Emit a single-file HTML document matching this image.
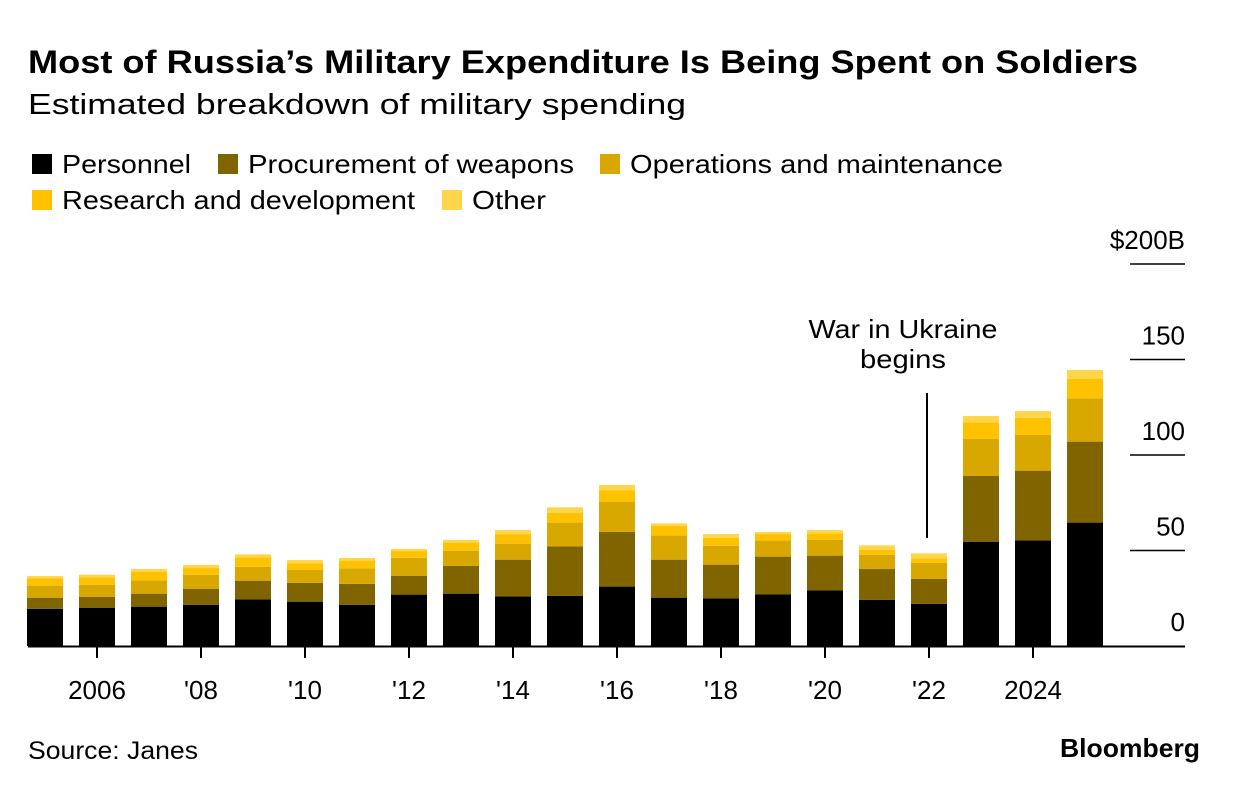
<!DOCTYPE html>
<html><head><meta charset="utf-8"><style>
body{margin:0;background:#fff;font-family:"Liberation Sans",Arial,sans-serif;}
svg text{font-family:"Liberation Sans",Arial,sans-serif;}
</style></head><body>
<svg id="c" width="1240" height="792" viewBox="0 0 1240 792">
<text x="28" y="73" font-size="32" font-weight="bold" textLength="1110" lengthAdjust="spacingAndGlyphs">Most of Russia’s Military Expenditure Is Being Spent on Soldiers</text>
<text x="28" y="114" font-size="29" textLength="658" lengthAdjust="spacingAndGlyphs">Estimated breakdown of military spending</text>
<g id="legend"></g>
<g id="grid"></g>
<g id="bars"></g>
<g id="xaxis"></g>
<text x="903" y="338" font-size="26" text-anchor="middle" textLength="189" lengthAdjust="spacingAndGlyphs">War in Ukraine</text>
<text x="903" y="368" font-size="26" text-anchor="middle" textLength="86" lengthAdjust="spacingAndGlyphs">begins</text>
<line x1="927" y1="393" x2="927" y2="538" stroke="#000" stroke-width="2"/>
<text x="28" y="759" font-size="25" textLength="170" lengthAdjust="spacingAndGlyphs">Source: Janes</text>
<text x="1200" y="757" font-size="26" font-weight="bold" text-anchor="end" textLength="140" lengthAdjust="spacingAndGlyphs">Bloomberg</text>
</svg>
<script>
const years=[2005,2006,2007,2008,2009,2010,2011,2012,2013,2014,2015,2016,2017,2018,2019,2020,2021,2022,2023,2024,2025];
const personnel=[19.5,19.9,20.6,21.6,24.4,23.2,21.6,26.9,27.4,26.0,26.3,31.1,25.3,25.0,27.1,29.2,24.1,22.1,54.6,55.3,64.6];
const procurement=[5.8,5.9,6.8,8.4,9.8,9.9,10.9,9.9,14.5,19.2,25.9,28.6,19.9,17.6,19.7,18.1,16.2,13.0,34.4,36.5,42.4];
const operations=[6.3,6.3,7.0,7.3,7.3,6.7,8.2,9.4,8.0,8.4,12.4,15.7,12.6,9.9,8.4,8.2,7.5,8.5,19.4,18.7,22.7];
const research=[3.8,3.9,4.5,3.5,4.9,3.5,4.0,3.5,4.2,5.0,5.2,6.2,5.0,4.2,3.4,3.5,2.6,2.3,8.7,9.0,10.1];
const other=[1.2,1.3,1.4,1.6,1.6,1.7,1.4,1.1,1.4,2.1,2.8,2.7,1.4,1.9,1.1,1.7,2.3,2.6,3.3,3.5,4.7];
const seriesNames=["Personnel","Procurement of weapons","Operations and maintenance","Research and development","Other"];
const yTicks=[0,50,100,150,200];
const xTickYears=[2006,2008,2010,2012,2014,2016,2018,2020,2022,2024];
const xTickLabels=["2006","'08","'10","'12","'14","'16","'18","'20","'22","2024"];
const colors=["#000000","#7f6400","#d9a800","#ffc200","#ffd54a"];
const NS="http://www.w3.org/2000/svg";
const y=v=>646-v*1.91;
const x=yr=>45+(yr-2005)*52;
const bw=36;
function mk(tag,attrs,parent){const e=document.createElementNS(NS,tag);for(const k in attrs)e.setAttribute(k,attrs[k]);parent.appendChild(e);return e;}
const lg=document.getElementById('legend');
const lpos=[[28,164],[214,164],[596,164],[28,200],[438,200]];
const lwid=[129,326,373,353,74];
seriesNames.forEach((n,i)=>{
 const r=mk('rect',{x:lpos[i][0]+4,y:lpos[i][1]-10,width:20,height:20,fill:colors[i]},lg);
 
 
 const t=mk('text',{x:lpos[i][0]+34,y:lpos[i][1]+9,'font-size':26,textLength:lwid[i],lengthAdjust:'spacingAndGlyphs'},lg);t.textContent=n;
 
 
});
const g=document.getElementById('grid');
yTicks.forEach(v=>{
 if(v>0){const l=mk('line',{x1:1130,x2:1185,y1:y(v),y2:y(v),stroke:'#000','stroke-width':1.5},g);
 
 }
 const t=mk('text',{x:1185,y:y(v)-15,'font-size':26,'text-anchor':'end'},g);
 t.textContent=v===200?'$200B':String(v);
 
 
});
const b=document.getElementById('bars');
const all=[personnel,procurement,operations,research,other];
years.forEach((yr,i)=>{
 let cum=0;
 all.forEach((s,k)=>{
  const r=mk('rect',{x:x(yr)-bw/2,y:y(cum+s[i]),width:bw,height:s[i]*1.91,fill:colors[k]},b);
  
  
  cum+=s[i];
 });
});
const xa=document.getElementById('xaxis');
const al=mk('line',{x1:28,x2:1185,y1:646.5,y2:646.5,stroke:'#000','stroke-width':2},xa);


xTickYears.forEach((yr,i)=>{
 const l=mk('line',{x1:x(yr),x2:x(yr),y1:647,y2:658,stroke:'#000','stroke-width':2},xa);
 
 
 const t=mk('text',{x:x(yr),y:699,'font-size':26,'text-anchor':'middle'},xa);
 t.textContent=xTickLabels[i];
 
 
});
</script>
</body></html>
